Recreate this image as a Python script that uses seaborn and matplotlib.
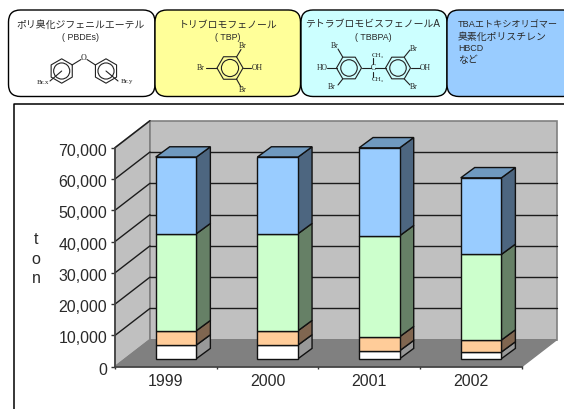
import numpy as np
import pandas as pd
import matplotlib
matplotlib.use("Agg")
import matplotlib.pyplot as plt
from matplotlib.patches import FancyBboxPatch, Circle, RegularPolygon
from matplotlib.transforms import ScaledTranslation
import seaborn as sns

years = ["1999", "2000", "2001", "2002"]
others = [4370, 4370, 2560, 2130]
tbbpa_low = [4580, 4580, 4470, 3830]
tbbpa = [31000, 31000, 32270, 27370]
pbde = [24500, 24500, 28100, 24480]
series_values = [others, tbbpa_low, tbbpa, pbde]
front_colors = ["#FFFFFF", "#FFCC99", "#CCFFCC", "#99CCFF"]
side_colors = ["#999999", "#806650", "#668066", "#4D6680"]
top_color = "#6F99BF"
y_ticks = [0, 10000, 20000, 30000, 40000, 50000, 60000, 70000]

sns.set_theme(style="white")
plt.rcParams["font.family"] = ["Liberation Sans", "Noto Sans CJK JP", "DejaVu Sans"]
W, H = 564, 409
fig = plt.figure(figsize=(W / 100, H / 100), dpi=100, facecolor="white")

# ---------- page layer in pixel coordinates ----------
page = fig.add_axes([0, 0, 1, 1], zorder=0)
page.set_xlim(0, W)
page.set_ylim(H, 0)
page.axis("off")
page.plot([13.7, 13.7, W], [H, 103.7, 103.7], color="black", lw=1.1, clip_on=False)

boxes = [(8.5, 155, "white"), (155, 300.5, "#FFFF99"), (301, 447, "#CCFFFF"), (447, 575, "#99CCFF")]
for x0, x1, c in boxes:
    page.add_patch(FancyBboxPatch((x0, 10), x1 - x0, 86.5, boxstyle="round,pad=0,rounding_size=12",
                                  fc=c, ec="black", lw=1))

TXT = "#2a2a2a"
def label(x, y, s, size=7.1, ha="center", **kw):
    page.text(x, y, s, fontsize=size, ha=ha, va="center", color=TXT, **kw)

label(81, 24.5, "ポリ臭化ジフェニルエーテル")
label(81, 37, "( PBDEs)", size=6.4)
label(228, 24.5, "トリブロモフェノール")
label(228, 37, "( TBP)", size=6.4)
label(373, 24.5, "テトラブロモビスフェノールA")
label(373, 37, "( TBBPA)", size=6.4)
label(458, 25, "TBAエトキシオリゴマー", size=6.6, ha="left")
label(458, 36.5, "臭素化ポリスチレン", ha="left")
label(458, 48.5, "HBCD", size=6.4, ha="left")
label(458, 60.5, "など", ha="left")

def ring(cx, cy, r, flat=True):
    orient = np.pi / 6 if flat else 0
    page.add_patch(RegularPolygon((cx, cy), 6, radius=r, orientation=orient, fill=False, ec="#222222", lw=0.8))
    page.add_patch(Circle((cx, cy), r * 0.66, fill=False, ec="#222222", lw=0.8))

def bond(x0, y0, x1, y1):
    page.plot([x0, x1], [y0, y1], color="#222222", lw=0.8)

def atom(x, y, s, size=5.5):
    page.text(x, y, s, fontsize=size, family="Liberation Serif", ha="center", va="center", color="#222222")

# PBDE
ring(61.7, 71, 12.2, flat=False)
ring(106, 71, 12.2, flat=False)
bond(72, 65, 81, 59.5); bond(87, 59.5, 95.5, 65)
bond(61.7, 71, 50, 81); bond(106, 71, 118, 81)
atom(84, 57.5, "O", 5.8); atom(43, 83, "Br.x", 5.2); atom(127, 82, "Br.y", 5.2)
# TBP
ring(230, 68, 13)
bond(236.5, 57, 241, 49.5); bond(236.5, 79, 241, 87)
bond(217, 68, 206, 68); bond(243, 68, 251, 68)
atom(242.5, 46, "Br"); atom(242.5, 90.5, "Br"); atom(201, 68, "Br"); atom(257, 68, "OH")
# TBBPA
ring(349, 68, 12.5); ring(398, 68, 12.5)
bond(361.5, 68, 371, 68); bond(375, 68, 385.5, 68)
bond(373, 64, 373, 58); bond(373, 72, 373, 77)
bond(336.5, 68, 327, 68); bond(410.5, 68, 420, 68)
bond(342.7, 57, 338, 49); bond(342.7, 79, 338, 85)
bond(404.3, 57, 410, 50); bond(404.3, 79, 410, 85)
atom(373, 67.5, "C"); atom(377.5, 55, "CH₃", 5); atom(377.5, 79.5, "CH₃", 5)
atom(322, 68, "HO"); atom(425, 68, "OH")
atom(335, 46, "Br"); atom(332, 87, "Br"); atom(414, 49, "Br"); atom(414, 87, "Br")

# ---------- chart: front plane axes ----------
left, right, y0_px, y7_px = 115.0, 521.7, 366.7, 147.7
pos = [left / W, (H - y0_px) / H, (right - left) / W, (y0_px - y7_px) / H]
ax = fig.add_axes(pos, zorder=1)
ax.patch.set_alpha(0)
ax.set_xlim(-0.5, 3.5)
ax.set_ylim(0, 70000)
px_x = 4 / (right - left)           # data units per pixel, x
px_y = 70000 / (y0_px - y7_px)      # data units per pixel, y

# wall depth
D, E = 35 * px_x, 27 * px_y
xl, xr, ymax = -0.5, 3.5, 70000
wall = "#C0C0C0"
ax.fill([xl, xl, xl + D, xl + D], [0, ymax, ymax + E, E], fc=wall, ec="#808080", lw=1.2, clip_on=False, zorder=1)
ax.fill([xl + D, xl + D, xr + D, xr + D], [E, ymax + E, ymax + E, E], fc=wall, ec="#808080", lw=1.2, clip_on=False, zorder=1)
ax.fill([xl, xl + D, xr + D, xr], [0, E, E, 0], fc="#808080", ec="#808080", lw=1, clip_on=False, zorder=1.5)
for v in y_ticks[1:]:
    if v < ymax:
        ax.plot([xl + D, xr + D], [v + E, v + E], color="#1c1c1c", lw=1, clip_on=False, zorder=2)
    ax.plot([xl, xl + D], [v, v + E], color="#1c1c1c", lw=1, clip_on=False, zorder=2)

ax.set_yticks(y_ticks)
ax.set_yticklabels([f"{v:,}" for v in y_ticks])
ax.set_xticks(range(len(years)))
ax.set_xticklabels(years)
ax.set_xticks(np.arange(-0.5, 4, 1), minor=True)
ax.tick_params(axis="x", which="major", length=0, pad=5.5, labelsize=11.5, labelcolor="#2a2a2a")
ax.tick_params(axis="x", which="minor", length=3, width=1, color="#333333", bottom=True, direction="inout")
ax.tick_params(axis="y", length=3, width=1, color="#333333", left=True, pad=4, labelsize=11.5, labelcolor="#2a2a2a")
shift = ScaledTranslation(1.5 / 72, -1.5 / 72, fig.dpi_scale_trans)
for lab in ax.get_yticklabels():
    lab.set_transform(lab.get_transform() + shift)
sns.despine(ax=ax, top=True, right=True)
for s in ("left", "bottom"):
    ax.spines[s].set_color("#404040")
    ax.spines[s].set_linewidth(1.2)
    ax.spines[s].set_zorder(3)
page.text(36, 259, "t\no\nn", fontsize=11.5, ha="center", va="center", linespacing=1.38, color="#2a2a2a")

# ---------- bars on a plane set back from the front plane ----------
bx = fig.add_axes([(left + 10.2) / W, (H - y0_px + 8) / H, (right - left) / W, (y0_px - y7_px) / H], zorder=2)
bx.patch.set_alpha(0)
bar_w = 0.4
dx, dy = 14 * px_x, 10.3 * px_y
bottom = np.zeros(len(years))
for vals, fc, sc in zip(series_values, front_colors, side_colors):
    vals = np.array(vals, dtype=float)
    df = pd.DataFrame({"year": years, "value": vals})
    sns.barplot(data=df, x="year", y="value", bottom=bottom, color=fc, saturation=1,
                width=bar_w, edgecolor="#111111", linewidth=1.0, errorbar=None, ax=bx, zorder=5, clip_on=False)
    for i in range(len(years)):
        xe = i + bar_w / 2
        bx.fill([xe, xe, xe + dx, xe + dx],
                [bottom[i], bottom[i] + vals[i], bottom[i] + vals[i] + dy, bottom[i] + dy],
                fc=sc, ec="#111111", lw=1.0, clip_on=False, zorder=4)
    bottom = bottom + vals
for i, t in enumerate(bottom):
    xa, xb = i - bar_w / 2, i + bar_w / 2
    bx.fill([xa, xb, xb + dx, xa + dx], [t, t, t + dy, t + dy], fc=top_color, ec="#111111", lw=1.0,
            clip_on=False, zorder=4)
bx.set_xlim(-0.5, 3.5)
bx.set_ylim(0, 70000)
bx.axis("off")

fig.savefig("out.png", dpi=100)
